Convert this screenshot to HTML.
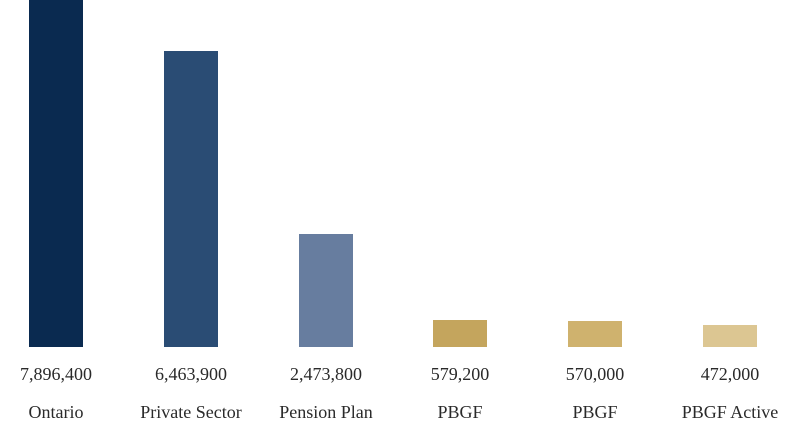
<!DOCTYPE html>
<html><head><meta charset="utf-8"><style>
html,body{margin:0;padding:0;background:#fff;}
body{width:800px;height:430px;position:relative;overflow:hidden;font-family:"Liberation Serif",serif;color:#2a2a2a;}
.b{position:absolute;width:54px;bottom:83px;}
.t{position:absolute;width:160px;text-align:center;font-size:18px;}
</style></head><body>
<div class="b" style="left:29px;top:0;background:#0a2a50"></div>
<div class="b" style="left:164px;top:51px;background:#2a4c74"></div>
<div class="b" style="left:299px;top:234px;background:#677d9f"></div>
<div class="b" style="left:433px;top:320px;background:#c4a55d"></div>
<div class="b" style="left:568px;top:321px;background:#cfb26e"></div>
<div class="b" style="left:703px;top:325px;background:#dcc692"></div>
<div class="t" style="left:-24px;top:364px">7,896,400</div>
<div class="t" style="left:111px;top:364px">6,463,900</div>
<div class="t" style="left:246px;top:364px">2,473,800</div>
<div class="t" style="left:380px;top:364px">579,200</div>
<div class="t" style="left:515px;top:364px">570,000</div>
<div class="t" style="left:650px;top:364px">472,000</div>
<div class="t" style="left:-24px;top:402px">Ontario</div>
<div class="t" style="left:111px;top:402px">Private Sector</div>
<div class="t" style="left:246px;top:402px">Pension Plan</div>
<div class="t" style="left:380px;top:402px">PBGF</div>
<div class="t" style="left:515px;top:402px">PBGF</div>
<div class="t" style="left:650px;top:402px">PBGF Active</div>
</body></html>
